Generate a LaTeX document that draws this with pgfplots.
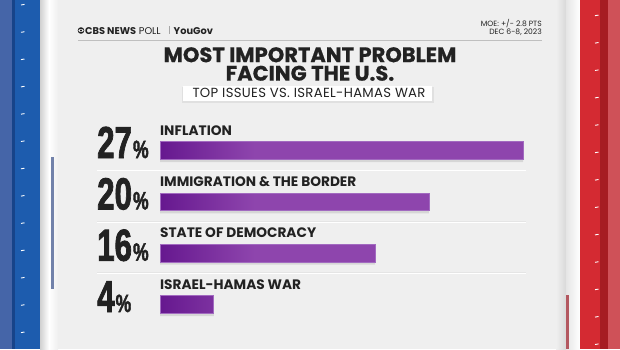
\documentclass[border=0pt]{standalone}
\usepackage{graphicx}
\usepackage{pgfplots}
\pgfplotsset{compat=1.18}
\usepackage{fontspec}
\setmainfont{Poppins}
\newfontfamily\numfont{Liberation Sans}[FakeBold=2.2]
\definecolor{bg}{HTML}{EFEFEF}
\definecolor{lblue}{HTML}{4565A8}
\definecolor{dblue}{HTML}{17448A}
\definecolor{mblue}{HTML}{1D5CAE}
\definecolor{sblue}{HTML}{7282AA}
\definecolor{mred}{HTML}{D42A32}
\definecolor{dred}{HTML}{A61C22}
\definecolor{lred}{HTML}{CF5158}
\definecolor{sred}{HTML}{B35860}
\definecolor{bdark}{HTML}{66188F}
\definecolor{blight}{HTML}{8E45AD}
\definecolor{bedge}{HTML}{A26AC0}
\definecolor{txt}{HTML}{222222}
\pgfdeclarehorizontalshading{barshade}{100bp}{color(0bp)=(bdark); color(25bp)=(bdark); color(38bp)=(blight); color(100bp)=(blight)}
\begin{document}
\begin{tikzpicture}[x=1pt,y=-1pt]
\useasboundingbox (0,0) rectangle (620,349);
\fill[bg] (0,0) rectangle (620,349);
% left frame
\fill[lblue] (0,0) rectangle (12,349);
\fill[dblue] (12,0) rectangle (15,349);
\fill[mblue] (15,0) rectangle (40,349);
\shade[left color=black!18, right color=white] (40,0) rectangle (49,349);
\shade[left color=white, right color=bg] (49,0) rectangle (58,349);
\fill[sblue] (50.7,157) rectangle (54,289);
\foreach \yy in {5,32.3,...,340} {\draw[white, line width=0.9pt] (21,\yy) -- (24.5,\yy-0.6);}
% right frame
\shade[left color=bg, right color=black!15] (556,0) rectangle (566,349);
\shade[left color=white!90!black, right color=white] (566,0) rectangle (580,349);
\fill[mred] (580,0) rectangle (600,349);
\fill[dred] (600,0) rectangle (608,349);
\fill[lred] (608,0) rectangle (620,349);
\fill[sred] (565.7,295) rectangle (569.3,349);
\foreach \yy in {15.7,43.1,...,349} {\draw[white, line width=0.9pt] (595,\yy) -- (598.5,\yy-0.6);}
% header
\fill[txt] (81,30.5) circle (3.3);
\fill[white] (81,30.5) ellipse (2.6 and 1.4);
\fill[txt] (81,30.5) circle (1.1);
\node[anchor=base west, inner sep=0, font=\fontsize{9.8}{10}\selectfont, text=txt] at (85,34) {\textbf{CBS NEWS} POLL};
\draw[black!35, line width=0.6pt] (169,26) -- (169,34);
\node[anchor=base west, inner sep=0, font=\fontsize{9.8}{10}\selectfont\bfseries, text=txt] at (173.5,34) {YouGov};
\node[anchor=base east, inner sep=0, font=\fontsize{7.6}{8}\selectfont, text=txt] at (542,26.3) {MOE: +/- 2.8 PTS};
\node[anchor=base east, inner sep=0, font=\fontsize{7.6}{8}\selectfont, text=txt] at (542,34.5) {DEC 6-8, 2023};
\draw[black!25, line width=1pt] (78,40) -- (542,40);
% title
\node[anchor=north, align=center, inner sep=0, font=\fontsize{21}{18.5}\selectfont\bfseries\addfontfeature{FakeBold=0.6}, text=txt] at (310,47) {MOST IMPORTANT PROBLEM\\FACING THE U.S.};
\fill[black!12] (181.5,87) rectangle (433.5,102.5);
\fill[white] (183,86) rectangle (432,101);
\node[anchor=base, inner sep=0, font=\fontsize{13.2}{14}\selectfont\addfontfeature{LetterSpace=2.5}, text=txt] at (309,97.5) {TOP ISSUES VS. ISRAEL-HAMAS WAR};
% row separators
\foreach \yy in {170,221.3,272.6} {\draw[black!10, line width=0.6pt] (97,\yy) -- (526,\yy); \draw[white, line width=0.8pt] (97,\yy+0.8) -- (526,\yy+0.8);}
\coordinate (AX) at (160,124.83);
\begin{axis}[at={(AX)}, anchor=north west, width=363pt, height=205.33pt, scale only axis,
  xmin=0, xmax=27, ymin=-0.5, ymax=3.5, y dir=reverse, hide axis, clip=false]
\addplot[xbar, bar width=16pt, bar shift=-3.5pt, fill=black, fill opacity=0.10, draw=none] coordinates {(27,0) (20,1) (16,2) (4,3)};
\addplot[xbar, bar width=17.5pt, bar shift=0pt, draw=bedge, line width=0.6pt, shading=barshade] coordinates {(27,0) (20,1) (16,2) (4,3)};
\foreach \lab/\num [count=\i from 0] in {INFLATION/27, IMMIGRATION \& THE BORDER/20, STATE OF DEMOCRACY/16, ISRAEL-HAMAS WAR/4} {
  \edef\tmp{\noexpand\node[anchor=base west, inner sep=0, font=\noexpand\fontsize{13.7}{14}\noexpand\selectfont\noexpand\bfseries, text=txt, yshift=15.5pt] at (axis cs:0,\i) {\unexpanded\expandafter{\lab}};}\tmp
  \edef\tmp{\noexpand\node[anchor=base west, inner sep=0, text=txt, xshift=-63pt, yshift=-7.5pt] at (axis cs:0,\i) {\noexpand\numfont\noexpand\bfseries\noexpand\scalebox{0.7}[1]{\noexpand\fontsize{44.7}{46}\noexpand\selectfont \num\noexpand\hspace{1.5pt}\noexpand\fontsize{25}{26}\noexpand\selectfont\noexpand\%}};}\tmp
}
\end{axis}
\end{tikzpicture}
\end{document}
